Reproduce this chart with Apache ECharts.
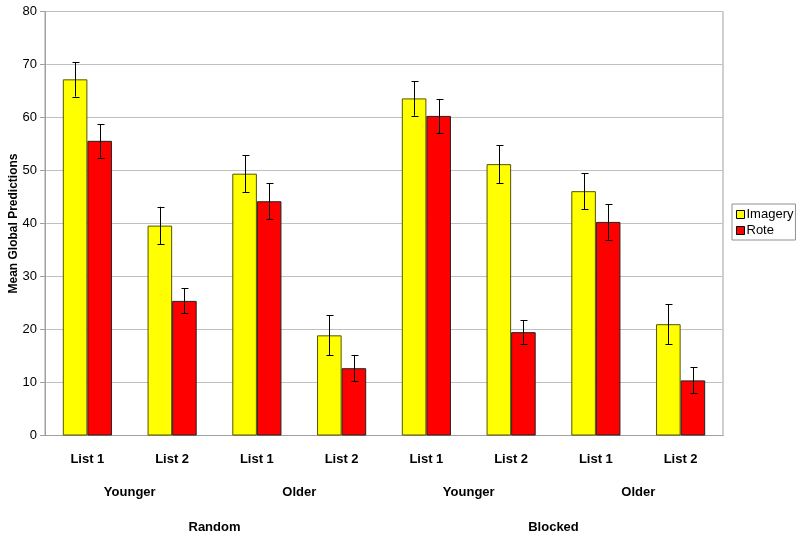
<!DOCTYPE html>
<html>
<head>
<meta charset="utf-8">
<script src="https://cdn.jsdelivr.net/npm/echarts@6/dist/echarts.min.js"></script>
<style>html,body{margin:0;padding:0;background:#fff;}#c{width:800px;height:537px;}</style>
</head>
<body>
<div id="c"></div>
<script>
const listLabels = ['List 1','List 2','List 1','List 2','List 1','List 2','List 1','List 2'];
const ageLabels = ['Younger','Older','Younger','Older'];
const conditionLabels = ['Random','Blocked'];
const seriesNames = ['Imagery','Rote'];
const imagery = [67.2, 39.6, 49.4, 18.9, 63.6, 51.2, 46.1, 21.0];
const rote = [55.6, 25.4, 44.2, 12.7, 60.3, 19.5, 40.3, 10.4];
const imageryErr = [3.25, 3.55, 3.45, 3.8, 3.25, 3.55, 3.4, 3.8];
const roteErr = [3.15, 2.35, 3.4, 2.5, 3.2, 2.3, 3.35, 2.45];
const yTicks = [0, 10, 20, 30, 40, 50, 60, 70, 80];

const GAP = 0.42;
const font = 'Liberation Sans, Arial, sans-serif';

function errData(vals, errs) {
  return vals.map((v, i) => [i, v - errs[i], v + errs[i]]);
}
function errRender(sign) {
  return function (params, api) {
    const x = api.value(0);
    const lo = api.coord([x, api.value(1)]);
    const hi = api.coord([x, api.value(2)]);
    const catW = api.size([1, 0])[0];
    const off = sign * catW * (1 - GAP) / 4;
    const px = Math.round(lo[0] + off) + 0.5;
    const cap = 3;
    const st = { stroke: '#000', lineWidth: 1 };
    return {
      type: 'group',
      children: [
        { type: 'line', shape: { x1: px, y1: lo[1], x2: px, y2: hi[1] }, style: st },
        { type: 'line', shape: { x1: px - cap, y1: Math.round(lo[1]) + 0.5, x2: px + cap + 1, y2: Math.round(lo[1]) + 0.5 }, style: st },
        { type: 'line', shape: { x1: px - cap, y1: Math.round(hi[1]) + 0.5, x2: px + cap + 1, y2: Math.round(hi[1]) + 0.5 }, style: st }
      ]
    };
  };
}

const chart = echarts.init(document.getElementById('c'), null, { renderer: 'canvas' });
chart.setOption({
  animation: false,
  backgroundColor: '#fff',
  textStyle: { fontFamily: font },
  grid: { left: 45, right: 77, top: 11.5, bottom: 101.5, containLabel: false, outerBoundsMode: 'none',
          show: true, borderColor: '#a0a0a0', borderWidth: 1 },
  legend: {
    orient: 'vertical',
    left: 732, top: 204,
    padding: [4, 2, 3, 4],
    itemGap: 3,
    itemWidth: 8, itemHeight: 8,
    borderColor: '#909090', borderWidth: 1,
    textStyle: { fontSize: 13, color: '#000', fontFamily: font, padding: [0, 0, 0, -3] },
    data: [
      { name: 'Imagery', icon: 'rect', itemStyle: { color: '#ffff00', borderColor: '#000', borderWidth: 1 } },
      { name: 'Rote', icon: 'rect', itemStyle: { color: '#ff0000', borderColor: '#000', borderWidth: 1 } }
    ]
  },
  xAxis: [
    {
      type: 'category', data: listLabels, position: 'bottom',
      axisLine: { lineStyle: { color: '#a0a0a0' } },
      axisTick: { show: false },
      axisLabel: { color: '#000', fontWeight: 'bold', fontSize: 13, margin: 17, fontFamily: font }
    },
    {
      type: 'category', data: ageLabels, position: 'bottom', offset: 33,
      axisLine: { show: false }, axisTick: { show: false },
      axisLabel: { color: '#000', fontWeight: 'bold', fontSize: 13, margin: 17, fontFamily: font }
    },
    {
      type: 'category', data: conditionLabels, position: 'bottom', offset: 68,
      axisLine: { show: false }, axisTick: { show: false },
      axisLabel: { color: '#000', fontWeight: 'bold', fontSize: 13, margin: 17, fontFamily: font }
    }
  ],
  yAxis: {
    type: 'value', min: yTicks[0], max: yTicks[yTicks.length - 1], interval: 10,
    name: 'Mean Global Predictions', nameLocation: 'middle', nameGap: 25, nameMoveOverlap: false,
    nameTextStyle: { color: '#000', fontWeight: 'bold', fontSize: 12, fontFamily: font },
    axisLine: { show: true, lineStyle: { color: '#a0a0a0' } },
    axisTick: { show: true, length: 5, lineStyle: { color: '#a0a0a0' } },
    axisLabel: { color: '#000', fontSize: 13, margin: 8, fontFamily: font },
    splitLine: { lineStyle: { color: '#c0c0c0' } }
  },
  series: [
    {
      name: 'Imagery', type: 'bar', data: imagery, xAxisIndex: 0,
      barGap: '0%', barCategoryGap: (GAP * 100) + '%',
      itemStyle: { color: '#ffff00', borderColor: '#555500', borderWidth: 1 }
    },
    {
      name: 'Rote', type: 'bar', data: rote, xAxisIndex: 0,
      barGap: '0%', barCategoryGap: (GAP * 100) + '%',
      itemStyle: { color: '#ff0000', borderColor: '#222', borderWidth: 1 }
    },
    {
      type: 'custom', xAxisIndex: 0, data: errData(imagery, imageryErr),
      encode: { x: 0, y: [1, 2] }, renderItem: errRender(-1), z: 5, silent: true
    },
    {
      type: 'custom', xAxisIndex: 0, data: errData(rote, roteErr),
      encode: { x: 0, y: [1, 2] }, renderItem: errRender(1), z: 5, silent: true
    }
  ]
});
</script>
</body>
</html>
